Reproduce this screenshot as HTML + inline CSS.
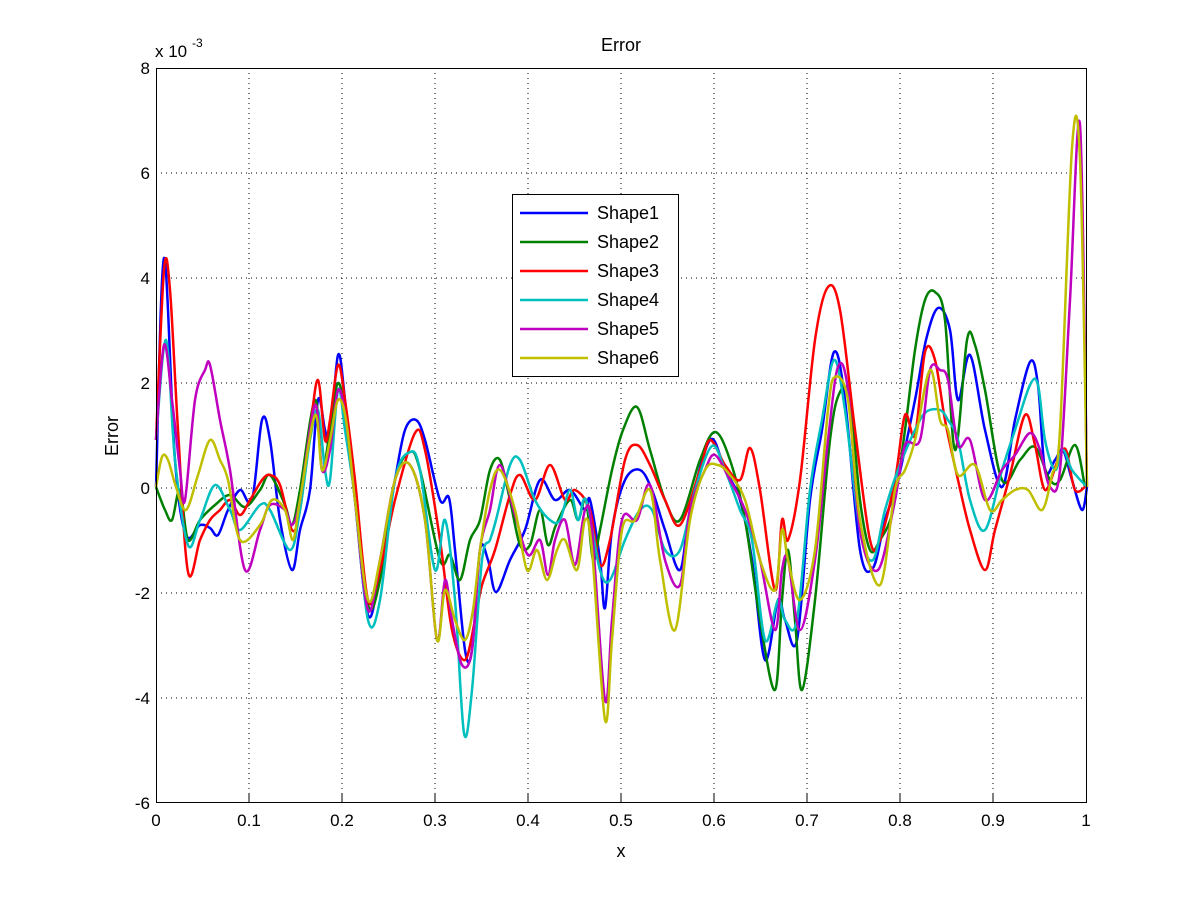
<!DOCTYPE html>
<html><head><style>
body{margin:0;background:#fff;}
svg text{font-family:"Liberation Sans",sans-serif;fill:#000;}
</style></head><body>
<svg id="s" width="1201" height="901" viewBox="0 0 1201 901" xmlns="http://www.w3.org/2000/svg">
<rect width="1201" height="901" fill="#fff"/>
<g stroke="#000" stroke-width="1" stroke-dasharray="1,4" shape-rendering="crispEdges">
<line x1="249" y1="68" x2="249" y2="802"/><line x1="342" y1="68" x2="342" y2="802"/><line x1="435" y1="68" x2="435" y2="802"/><line x1="528" y1="68" x2="528" y2="802"/><line x1="621" y1="68" x2="621" y2="802"/><line x1="714" y1="68" x2="714" y2="802"/><line x1="807" y1="68" x2="807" y2="802"/><line x1="900" y1="68" x2="900" y2="802"/><line x1="993" y1="68" x2="993" y2="802"/>
<line x1="156" y1="173" x2="1087" y2="173"/><line x1="156" y1="278" x2="1087" y2="278"/><line x1="156" y1="383" x2="1087" y2="383"/><line x1="156" y1="488" x2="1087" y2="488"/><line x1="156" y1="593" x2="1087" y2="593"/><line x1="156" y1="698" x2="1087" y2="698"/>
</g>
<g id="curves" fill="none" stroke-width="2.5" stroke-linejoin="round">
<polyline stroke="#0000ff" points="156,487 164,258 175,460 186,535 200,525 210,528 218,535 228,510 240,490 252,500 262,420 270,440 280,520 292,570 300,530 310,490 318,400 325,430 330,440 338,355 345,400 355,500 368,615 380,570 395,480 405,430 416,420 425,440 440,500 449,498 455,550 465,650 472,650 480,550 488,560 496,592 510,560 525,530 540,480 555,500 570,490 585,510 590,500 600,560 605,608 612,530 625,480 640,470 652,490 665,530 680,570 690,510 710,440 725,470 740,500 752,560 765,660 778,600 785,620 797,640 810,500 822,430 834,352 845,400 860,550 873,568 885,520 898,480 915,400 926,340 938,308 950,330 958,400 970,355 985,430 1002,487 1015,420 1030,362 1038,385 1045,470 1055,460 1063,450 1072,480 1082,510 1087,487"/>
<polyline stroke="#008000" points="156,487 165,510 172,520 180,490 188,540 200,520 215,505 230,495 245,507 260,490 270,475 285,505 292,525 300,490 315,400 322,470 330,430 338,383 346,420 355,500 368,605 380,580 395,480 410,452 420,470 440,560 450,555 460,580 470,540 480,520 490,470 500,460 510,500 520,545 530,545 540,510 548,545 556,525 570,500 578,520 586,500 593,560 600,530 612,470 623,430 637,407 650,450 665,500 680,520 700,460 715,432 730,460 745,520 760,620 775,690 782,600 788,550 795,620 802,690 815,600 830,440 840,392 850,400 860,500 870,550 880,540 893,510 905,430 915,350 925,300 935,292 945,320 955,450 967,340 975,345 985,390 1002,480 1020,460 1035,447 1050,480 1060,480 1075,445 1085,487"/>
<polyline stroke="#ff0000" points="156,440 164,270 170,290 178,430 188,572 200,540 210,520 220,510 230,500 240,515 250,500 262,480 270,475 280,485 292,530 300,510 310,430 318,380 325,440 330,420 338,365 345,400 355,480 368,600 380,570 395,500 415,433 425,450 440,540 452,630 465,660 475,620 482,585 495,550 510,495 520,475 535,500 550,465 565,500 575,490 590,510 600,565 610,540 625,460 637,445 650,465 665,500 680,525 700,470 710,440 725,465 740,480 750,448 760,490 775,590 782,520 788,540 800,480 815,340 828,287 840,310 855,430 870,540 880,540 895,480 905,415 915,435 925,352 935,360 945,420 958,480 970,530 985,570 995,530 1010,475 1025,415 1035,445 1045,490 1058,460 1066,450 1075,490 1087,485"/>
<polyline stroke="#00bfbf" points="156,440 166,340 175,460 188,545 200,520 215,485 230,510 240,530 260,505 270,510 290,550 300,510 310,440 318,410 325,470 330,480 338,390 345,430 355,500 368,620 380,600 395,480 410,452 420,470 435,570 445,520 455,600 464,733 472,690 482,560 490,540 496,520 510,465 520,460 535,500 550,520 560,520 570,490 578,520 586,500 600,570 610,580 625,540 640,510 652,510 665,550 680,550 695,490 712,446 725,470 740,510 752,540 765,640 778,600 785,620 797,620 810,490 822,420 834,360 845,410 860,530 873,560 885,510 898,470 915,430 926,412 940,410 948,420 958,440 970,500 985,530 1002,470 1015,430 1030,385 1038,385 1045,440 1055,470 1063,450 1072,470 1087,487"/>
<polyline stroke="#bf00bf" points="156,440 164,345 172,400 180,470 185,500 195,400 205,370 210,365 220,420 230,470 245,570 260,530 270,505 285,510 292,525 300,500 315,405 322,470 330,450 338,390 346,420 355,500 368,610 380,560 395,480 410,465 425,520 437,640 445,580 452,620 462,665 472,650 480,550 490,510 500,465 515,515 528,555 540,540 548,575 555,540 565,520 575,565 585,510 592,530 605,700 612,620 622,520 637,520 650,485 665,560 680,585 690,510 705,470 715,455 730,480 745,510 760,560 775,630 782,570 788,560 800,630 815,560 828,440 838,367 848,390 860,530 878,570 895,500 905,445 920,440 930,370 940,370 948,380 958,445 970,440 985,500 1002,470 1015,455 1030,433 1040,450 1050,487 1060,470 1070,300 1080,125 1087,487"/>
<polyline stroke="#bfbf00" points="156,487 162,457 168,460 176,487 186,510 198,475 210,440 220,460 228,480 240,540 260,525 272,500 285,510 293,540 300,500 315,415 322,470 330,440 338,400 346,420 355,500 368,600 380,560 395,480 410,465 425,520 437,640 445,590 455,620 465,640 473,610 480,550 490,490 500,470 515,510 527,570 537,550 547,580 557,550 565,540 577,570 585,520 592,550 605,720 612,640 622,530 635,520 650,490 660,560 675,630 690,520 705,470 718,465 730,475 745,500 760,560 775,590 782,530 788,560 800,600 815,550 828,410 835,377 848,400 860,520 880,585 895,490 905,470 915,440 930,370 940,420 948,430 958,475 975,465 990,510 1002,500 1015,490 1028,490 1042,510 1052,475 1060,430 1072,148 1080,160 1087,487"/>
</g>
<rect x="156.5" y="68.5" width="930" height="734" fill="none" stroke="#000" stroke-width="1"/>
<g stroke="#000" stroke-width="1">
<line x1="249" y1="802" x2="249" y2="793"/><line x1="342" y1="802" x2="342" y2="793"/><line x1="435" y1="802" x2="435" y2="793"/><line x1="528" y1="802" x2="528" y2="793"/><line x1="621" y1="802" x2="621" y2="793"/><line x1="714" y1="802" x2="714" y2="793"/><line x1="807" y1="802" x2="807" y2="793"/><line x1="900" y1="802" x2="900" y2="793"/><line x1="993" y1="802" x2="993" y2="793"/>
</g>
<g font-size="17" text-anchor="middle">
<text x="156" y="826">0</text><text x="249" y="826">0.1</text><text x="342" y="826">0.2</text><text x="435" y="826">0.3</text><text x="528" y="826">0.4</text><text x="621" y="826">0.5</text><text x="714" y="826">0.6</text><text x="807" y="826">0.7</text><text x="900" y="826">0.8</text><text x="993" y="826">0.9</text><text x="1086" y="826">1</text>
</g>
<g font-size="17" text-anchor="end">
<text x="150" y="74">8</text><text x="150" y="179">6</text><text x="150" y="284">4</text><text x="150" y="389">2</text><text x="150" y="494">0</text><text x="150" y="599">-2</text><text x="150" y="704">-4</text><text x="150" y="809">-6</text>
</g>
<text x="155" y="57" font-size="17">x 10</text><text x="192" y="47" font-size="12">-3</text>
<text x="621" y="51" font-size="18" text-anchor="middle">Error</text>
<text x="621" y="857" font-size="18" text-anchor="middle">x</text>
<text transform="translate(118,436) rotate(-90)" font-size="18" text-anchor="middle">Error</text>
<rect x="512.5" y="194.5" width="166" height="182" fill="#fff" stroke="#000"/>
<g stroke-width="2.5">
<line x1="520" y1="213" x2="588" y2="213" stroke="#0000ff"/>
<line x1="520" y1="242" x2="588" y2="242" stroke="#008000"/>
<line x1="520" y1="271" x2="588" y2="271" stroke="#ff0000"/>
<line x1="520" y1="300" x2="588" y2="300" stroke="#00bfbf"/>
<line x1="520" y1="329" x2="588" y2="329" stroke="#bf00bf"/>
<line x1="520" y1="358" x2="588" y2="358" stroke="#bfbf00"/>
</g>
<g font-size="18">
<text x="597" y="219">Shape1</text><text x="597" y="248">Shape2</text><text x="597" y="277">Shape3</text><text x="597" y="306">Shape4</text><text x="597" y="335">Shape5</text><text x="597" y="364">Shape6</text>
</g>
</svg>
<script>
document.querySelectorAll('#curves polyline').forEach(function(pl){
  var p=pl.getAttribute('points').trim().split(/\s+/).map(function(s){return s.split(',').map(Number);});
  var d='M'+p[0][0]+','+p[0][1];
  for(var i=0;i<p.length-1;i++){
    var p0=p[i-1]||p[i],p1=p[i],p2=p[i+1],p3=p[i+2]||p2;
    var c1x=p1[0]+(p2[0]-p0[0])/6,c1y=p1[1]+(p2[1]-p0[1])/6;
    var c2x=p2[0]-(p3[0]-p1[0])/6,c2y=p2[1]-(p3[1]-p1[1])/6;
    d+=' C'+c1x.toFixed(1)+','+c1y.toFixed(1)+' '+c2x.toFixed(1)+','+c2y.toFixed(1)+' '+p2[0]+','+p2[1];
  }
  var path=document.createElementNS('http://www.w3.org/2000/svg','path');
  path.setAttribute('d',d);path.setAttribute('stroke',pl.getAttribute('stroke'));
  pl.parentNode.replaceChild(path,pl);
});
</script>
</body></html>
